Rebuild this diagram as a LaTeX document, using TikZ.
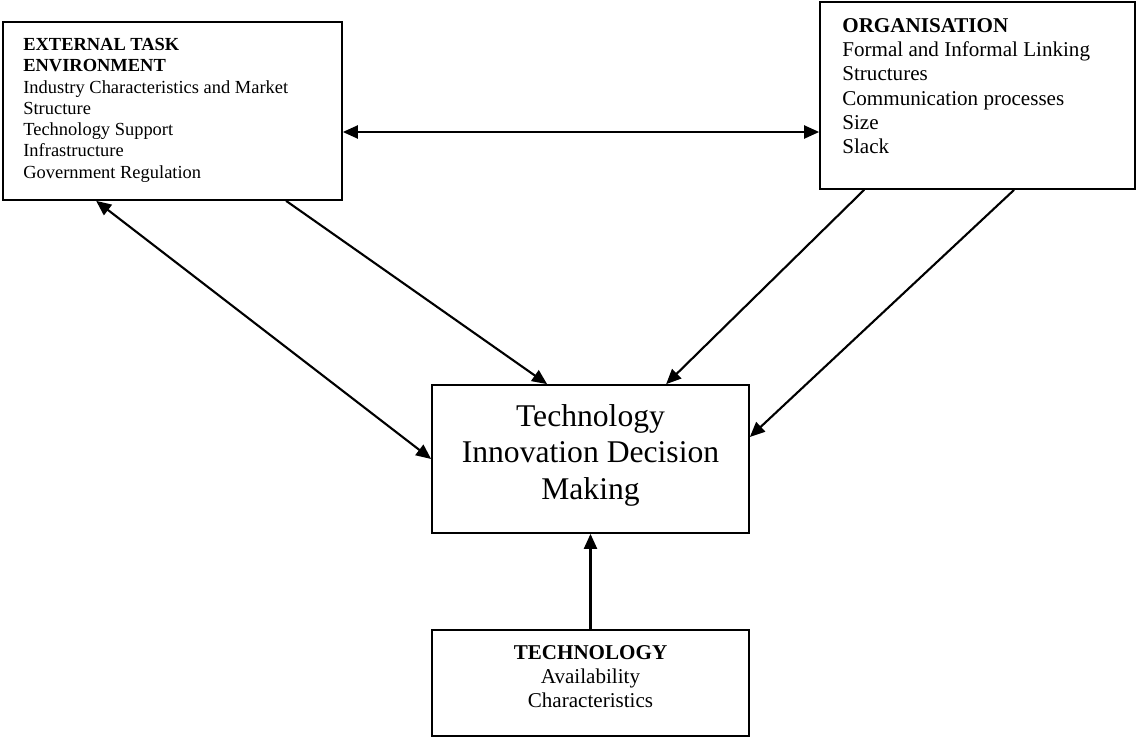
\documentclass[tikz,border=0pt]{standalone}
\usepackage{fontspec}
\setmainfont{Liberation Serif}
\usetikzlibrary{arrows.meta}

\begin{document}
\begin{tikzpicture}[x=0.02cm, y=-0.02cm,
		box/.style={shape=rectangle, draw, line width=1pt, inner sep=0pt},
		txt/.style={align=left, inner sep=0pt},
		link/.style={line width=1.2pt, -{Triangle[length=0.3cm, width=0.26cm]}},
		twoway/.style={line width=1.2pt, {Triangle[length=0.3cm, width=0.26cm]}-{Triangle[length=0.3cm, width=0.26cm]}}]
			\useasboundingbox (0, 0) rectangle (1137, 738);
			\node[box, minimum width=6.78cm, minimum height=3.56cm] (env) at (172.5, 111){} node[txt, anchor=north west, font=\fontsize{10.5}{12.1}\selectfont] (envtext) at (23, 38){\textbf{EXTERNAL TASK}\\\textbf{ENVIRONMENT}\\Industry Characteristics and Market\\Structure\\Technology Support\\Infrastructure\\Government Regulation};
			\node[box, minimum width=6.3cm, minimum height=3.74cm] (org) at (977.5, 95.5){} node[txt, anchor=north west, font=\fontsize{12}{13.8}\selectfont] (orgtext) at (842, 18){\textbf{ORGANISATION}\\Formal and Informal Linking\\Structures\\Communication processes\\Size\\Slack};
			\node[box, minimum width=6.34cm, minimum height=2.96cm] (tdm) at (590.5, 459){} node[txt, align=center, anchor=north, font=\fontsize{18}{20.7}\selectfont] (tdmtext) at (590.5, 404){Technology\\Innovation Decision\\Making};
			\node[box, minimum width=6.34cm, minimum height=2.12cm] (tech) at (590.5, 683){} node[txt, align=center, anchor=north, font=\fontsize{12}{13.8}\selectfont] (techtext) at (590.5, 645){\textbf{TECHNOLOGY}\\Availability\\Characteristics};
			\draw[twoway] ([yshift=-0.42cm]env.east) -- ([yshift=-0.42cm]env.east -| org.west);
			\draw[twoway] ([xshift=1.88cm]env.south west) -- (tdm.west);
			\draw[link] ([xshift=5.68cm]env.south west) -- ([xshift=2.32cm]tdm.north west);
			\draw[link] ([xshift=0.9cm]org.south west) -- ([xshift=4.7cm]tdm.north west);
			\draw[link] ([xshift=3.9cm]org.south west) -- ([yshift=0.44cm]tdm.east);
			\draw[link] (tech.north) -- (tdm.south);
		\end{tikzpicture}
\end{document}
